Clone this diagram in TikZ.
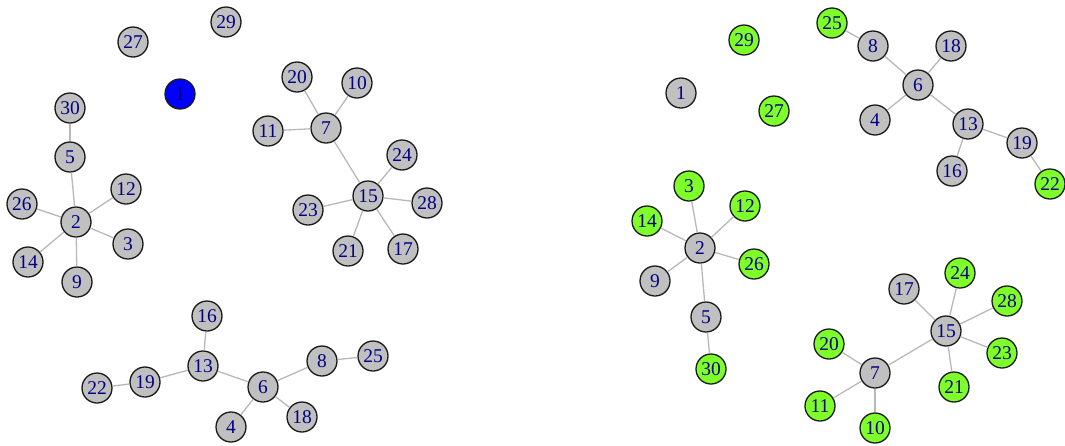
\documentclass[tikz,border=0pt]{standalone}
\usepackage{fontspec}
\setmainfont{Liberation Serif}
\definecolor{vgray}{HTML}{C0C0C0}
\definecolor{vgreen}{HTML}{7FFF2A}
\definecolor{vblue}{HTML}{0000FF}
\definecolor{vtext}{HTML}{000080}
\definecolor{vedge}{HTML}{B8B8B8}
\definecolor{vborder}{HTML}{1A1A1A}
\begin{document}
\begin{tikzpicture}[x=1pt,y=-1pt,
  vtx/.style={circle,draw=vborder,line width=1.3pt,fill=vgray,minimum size=30pt,inner sep=0pt,
    text=vtext,font=\fontsize{19.5}{19.5}\selectfont},
  gv/.style={vtx,fill=vgreen},
  bv/.style={vtx,fill=vblue},
  edge/.style={draw=vedge,line width=1.3pt}]
\useasboundingbox (0,0) rectangle (1065,445);
% ---------- left graph ----------
\node[vtx] (L27) at (133,42) {27};
\node[vtx] (L29) at (226,22) {29};
\node[bv]  (L1)  at (180,94) {1};
\node[vtx] (L30) at (70,108) {30};
\node[vtx] (L5)  at (70,157) {5};
\node[vtx] (L12) at (126,189) {12};
\node[vtx] (L26) at (22,204) {26};
\node[vtx] (L2)  at (76,222) {2};
\node[vtx] (L3)  at (128,244) {3};
\node[vtx] (L14) at (28,262) {14};
\node[vtx] (L9)  at (77,282) {9};
\node[vtx] (L20) at (297,77) {20};
\node[vtx] (L10) at (357,83) {10};
\node[vtx] (L11) at (268,131) {11};
\node[vtx] (L7)  at (326,128) {7};
\node[vtx] (L24) at (402,155) {24};
\node[vtx] (L15) at (368,196) {15};
\node[vtx] (L23) at (308,210) {23};
\node[vtx] (L28) at (427,203) {28};
\node[vtx] (L21) at (348,251) {21};
\node[vtx] (L17) at (403,249) {17};
\node[vtx] (L16) at (207,316) {16};
\node[vtx] (L13) at (203,366) {13};
\node[vtx] (L19) at (145,382) {19};
\node[vtx] (L22) at (97,388) {22};
\node[vtx] (L6)  at (263,387) {6};
\node[vtx] (L8)  at (322,361) {8};
\node[vtx] (L25) at (373,356) {25};
\node[vtx] (L4)  at (231,427) {4};
\node[vtx] (L18) at (302,417) {18};
% ---------- right graph ----------
\node[gv]  (R29) at (744,40) {29};
\node[vtx] (R1)  at (681,93) {1};
\node[gv]  (R27) at (774,111) {27};
\node[gv]  (R25) at (832,23) {25};
\node[vtx] (R8)  at (873,46) {8};
\node[vtx] (R18) at (951,46) {18};
\node[vtx] (R6)  at (918,85) {6};
\node[vtx] (R4)  at (875,120) {4};
\node[vtx] (R13) at (968,124) {13};
\node[vtx] (R19) at (1022,143) {19};
\node[vtx] (R16) at (952,171) {16};
\node[gv]  (R22) at (1050,184) {22};
\node[gv]  (R3)  at (689,186) {3};
\node[gv]  (R12) at (745,206) {12};
\node[gv]  (R14) at (647,221) {14};
\node[vtx] (R2)  at (700,248) {2};
\node[gv]  (R26) at (754,264) {26};
\node[vtx] (R9)  at (655,281) {9};
\node[vtx] (R5)  at (706,317) {5};
\node[gv]  (R30) at (711,369) {30};
\node[vtx] (R17) at (904,289) {17};
\node[gv]  (R24) at (960,273) {24};
\node[gv]  (R28) at (1007,301) {28};
\node[vtx] (R15) at (946,331) {15};
\node[gv]  (R23) at (1002,353) {23};
\node[gv]  (R20) at (829,344) {20};
\node[vtx] (R7)  at (875,373) {7};
\node[gv]  (R21) at (954,387) {21};
\node[gv]  (R11) at (820,406) {11};
\node[gv]  (R10) at (875,428) {10};
% ---------- edges ----------
\foreach \a/\b in {L30/L5,L5/L2,L2/L12,L2/L26,L2/L3,L2/L14,L2/L9,
  L20/L7,L10/L7,L11/L7,L7/L15,L15/L24,L15/L23,L15/L28,L15/L21,L15/L17,
  L16/L13,L13/L19,L19/L22,L13/L6,L6/L8,L8/L25,L6/L4,L6/L18,
  R25/R8,R8/R6,R18/R6,R4/R6,R6/R13,R13/R19,R13/R16,R19/R22,
  R3/R2,R14/R2,R12/R2,R26/R2,R9/R2,R2/R5,R5/R30,
  R17/R15,R24/R15,R28/R15,R23/R15,R21/R15,R15/R7,R20/R7,R11/R7,R10/R7}
  \draw[edge] (\a) -- (\b);
\end{tikzpicture}
\end{document}
